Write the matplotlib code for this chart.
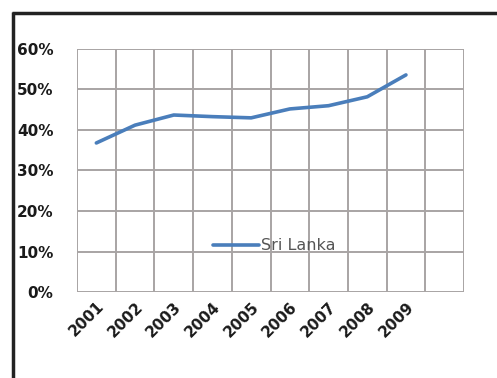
import numpy as np
import matplotlib.pyplot as plt
from matplotlib.lines import Line2D
from matplotlib.ticker import FuncFormatter, MultipleLocator

years = ['2001', '2002', '2003', '2004', '2005', '2006', '2007', '2008', '2009']
share = [0.368, 0.412, 0.437, 0.433, 0.430, 0.452, 0.460, 0.482, 0.536]
series_name = 'Sri Lanka'

fig = plt.figure(figsize=(4.97, 3.78), dpi=100)
W, H = 497, 378
ax = fig.add_axes([77 / W, 1 - 292 / H, (464 - 77) / W, (292 - 49) / H])

x = np.arange(len(years))
ax.plot(x, share, color='#4a7ebb', linewidth=2.6, solid_capstyle='round',
        label=series_name)

# one empty slot after the last year, gridlines between categories
ax.set_xlim(-0.5, len(years) + 0.5)
ax.set_ylim(0, 0.6)
ax.set_xticks(x)
ax.set_xticklabels(years, rotation=45, ha='right', va='top',
                   rotation_mode='anchor', fontsize=11, fontweight='bold',
                   color='#1a1a1a')
ax.xaxis.set_minor_locator(MultipleLocator(1, offset=0.5))
ax.yaxis.set_major_locator(MultipleLocator(0.1))
ax.yaxis.set_major_formatter(FuncFormatter(lambda v, _: f'{v:.0%}'))
for lbl in ax.get_yticklabels():
    lbl.set_fontsize(11)
    lbl.set_fontweight('bold')
    lbl.set_color('#1a1a1a')

ax.grid(True, axis='y', which='major', color='#a8a4a4', linewidth=1.4)
ax.grid(True, axis='x', which='minor', color='#a8a4a4', linewidth=1.4)
ax.tick_params(which='both', length=0)
ax.tick_params(axis='y', pad=17)
ax.tick_params(axis='x', pad=5)
for sp in ax.spines.values():
    sp.set_visible(False)
ax.set_axisbelow(True)

ax.legend(loc='center', bbox_to_anchor=(0.51, 0.19), frameon=False,
          fontsize=11.5, handlelength=2.9, handletextpad=0.1,
          labelcolor='#555555')

# outer chart border, top and left edges
fig.add_artist(Line2D([11.5 / W, 1.0], [1 - 13 / H, 1 - 13 / H],
                      color='#222222', linewidth=2.5, solid_capstyle='butt'))
fig.add_artist(Line2D([13 / W, 13 / W], [0.0, 1 - 11.5 / H],
                      color='#222222', linewidth=2.5, solid_capstyle='butt'))

fig.savefig('out.png', dpi=100)
